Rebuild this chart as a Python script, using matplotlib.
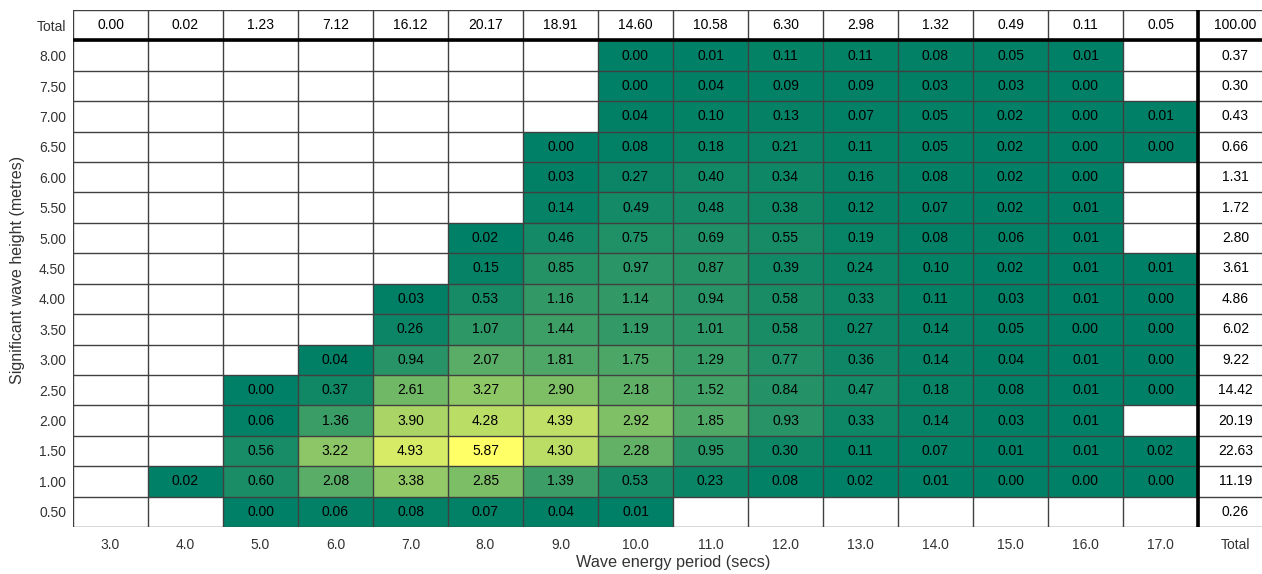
import numpy as np
import matplotlib
matplotlib.use("Agg")
import matplotlib.pyplot as plt

plt.rcParams["font.family"] = ["Liberation Sans", "DejaVu Sans"]

# Wave energy period bins (s) and significant wave height bins (m, top to bottom)
periods = ["3.0", "4.0", "5.0", "6.0", "7.0", "8.0", "9.0", "10.0", "11.0",
           "12.0", "13.0", "14.0", "15.0", "16.0", "17.0"]
heights = ["8.00", "7.50", "7.00", "6.50", "6.00", "5.50", "5.00", "4.50",
           "4.00", "3.50", "3.00", "2.50", "2.00", "1.50", "1.00", "0.50"]

N = None
# Occurrence (%) per height row, one value per period column; None = no data
h_800 = [N, N, N, N, N, N, N, 0.00, 0.01, 0.11, 0.11, 0.08, 0.05, 0.01, N]
h_750 = [N, N, N, N, N, N, N, 0.00, 0.04, 0.09, 0.09, 0.03, 0.03, 0.00, N]
h_700 = [N, N, N, N, N, N, N, 0.04, 0.10, 0.13, 0.07, 0.05, 0.02, 0.00, 0.01]
h_650 = [N, N, N, N, N, N, 0.00, 0.08, 0.18, 0.21, 0.11, 0.05, 0.02, 0.00, 0.00]
h_600 = [N, N, N, N, N, N, 0.03, 0.27, 0.40, 0.34, 0.16, 0.08, 0.02, 0.00, N]
h_550 = [N, N, N, N, N, N, 0.14, 0.49, 0.48, 0.38, 0.12, 0.07, 0.02, 0.01, N]
h_500 = [N, N, N, N, N, 0.02, 0.46, 0.75, 0.69, 0.55, 0.19, 0.08, 0.06, 0.01, N]
h_450 = [N, N, N, N, N, 0.15, 0.85, 0.97, 0.87, 0.39, 0.24, 0.10, 0.02, 0.01, 0.01]
h_400 = [N, N, N, N, 0.03, 0.53, 1.16, 1.14, 0.94, 0.58, 0.33, 0.11, 0.03, 0.01, 0.00]
h_350 = [N, N, N, N, 0.26, 1.07, 1.44, 1.19, 1.01, 0.58, 0.27, 0.14, 0.05, 0.00, 0.00]
h_300 = [N, N, N, 0.04, 0.94, 2.07, 1.81, 1.75, 1.29, 0.77, 0.36, 0.14, 0.04, 0.01, 0.00]
h_250 = [N, N, 0.00, 0.37, 2.61, 3.27, 2.90, 2.18, 1.52, 0.84, 0.47, 0.18, 0.08, 0.01, 0.00]
h_200 = [N, N, 0.06, 1.36, 3.90, 4.28, 4.39, 2.92, 1.85, 0.93, 0.33, 0.14, 0.03, 0.01, N]
h_150 = [N, N, 0.56, 3.22, 4.93, 5.87, 4.30, 2.28, 0.95, 0.30, 0.11, 0.07, 0.01, 0.01, 0.02]
h_100 = [N, 0.02, 0.60, 2.08, 3.38, 2.85, 1.39, 0.53, 0.23, 0.08, 0.02, 0.01, 0.00, 0.00, 0.00]
h_050 = [N, N, 0.00, 0.06, 0.08, 0.07, 0.04, 0.01, N, N, N, N, N, N, N]

# Marginal totals (%)
period_totals = [0.00, 0.02, 1.23, 7.12, 16.12, 20.17, 18.91, 14.60, 10.58,
                 6.30, 2.98, 1.32, 0.49, 0.11, 0.05]
height_totals = [0.37, 0.30, 0.43, 0.66, 1.31, 1.72, 2.80, 3.61, 4.86, 6.02,
                 9.22, 14.42, 20.19, 22.63, 11.19, 0.26]
grand_total = 100.00

rows = [h_800, h_750, h_700, h_650, h_600, h_550, h_500, h_450,
        h_400, h_350, h_300, h_250, h_200, h_150, h_100, h_050]
grid = np.array([[np.nan if v is None else v for v in r] for r in rows], dtype=float)

n_rows, n_cols = grid.shape            # 16 x 15
W = 1262
H = 574
fig = plt.figure(figsize=(W / 100, H / 100), dpi=100)
left_px, top_px, bottom_px, col_px = 73, 10, 527, 75
ax = fig.add_axes([left_px / W, 1 - bottom_px / H,
                   (n_cols + 1) * col_px / W, (bottom_px - top_px) / H])

# Layout: data rows occupy y 0..16 (0.50 at bottom), totals row at y 16..17;
# period columns at x 0..15, totals column at x 15..16
cmap = plt.get_cmap("summer").copy()
cmap.set_bad((1, 1, 1, 0))
data_plot = np.ma.masked_invalid(grid[::-1])
ax.pcolormesh(np.arange(n_cols + 1), np.arange(n_rows + 1), data_plot,
              cmap=cmap, vmin=0, vmax=np.nanmax(grid), shading="flat")

# Cell values
for i, r in enumerate(rows):
    y = n_rows - 1 - i + 0.5
    for j, v in enumerate(r):
        if v is not None:
            ax.text(j + 0.5, y, f"{v:.2f}", ha="center", va="center",
                    fontsize=10, color="black")
    ax.text(n_cols + 0.5, y, f"{height_totals[i]:.2f}", ha="center",
            va="center", fontsize=10, color="black")
for j, t in enumerate(period_totals):
    ax.text(j + 0.5, n_rows + 0.5, f"{t:.2f}", ha="center", va="center",
            fontsize=10, color="black")
ax.text(n_cols + 0.5, n_rows + 0.5, f"{grand_total:.2f}", ha="center",
        va="center", fontsize=10, color="black")

# Cell borders
line_col = "#404040"
for k in range(n_rows + 2):
    ax.axhline(k, color=line_col, lw=1.0, zorder=3)
for k in range(n_cols + 2):
    ax.axvline(k, color=line_col, lw=1.0, zorder=3)
ax.axhline(n_rows, color="black", lw=2.6, zorder=4)
ax.axvline(n_cols, color="black", lw=2.6, zorder=4)

ax.set_xlim(0, n_cols + 1)
ax.set_ylim(0, n_rows + 1)
for s in ax.spines.values():
    s.set_visible(False)

ax.set_xticks(np.arange(n_cols + 1) + 0.5)
ax.set_xticklabels(periods + ["Total"])
ax.set_yticks(np.arange(n_rows + 1) + 0.5)
ax.set_yticklabels(heights[::-1] + ["Total"])
ax.tick_params(axis="both", length=0, labelsize=10, labelcolor="#333333")
ax.tick_params(axis="x", pad=8)
ax.tick_params(axis="y", pad=5)

fig.text(673 / W, 1 - 562 / H, "Wave energy period (secs)", ha="center",
         va="center", fontsize=11.7, color="#333333")
fig.text(18 / W, 1 - 270 / H, "Significant wave height (metres)",
         ha="center", va="center", rotation=90, fontsize=11.5, color="#333333")

fig.savefig("out.png", dpi=100)
